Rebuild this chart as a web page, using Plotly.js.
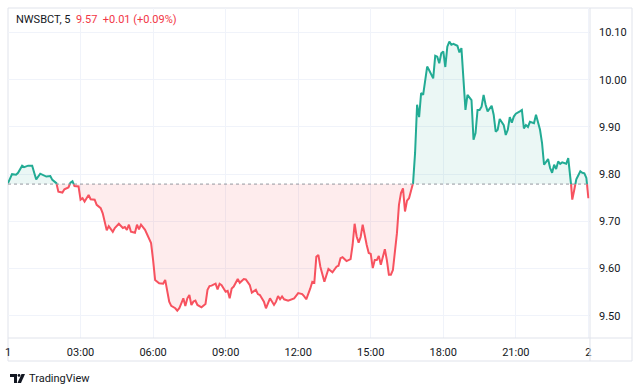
<!DOCTYPE html>
<html>
<head>
<meta charset="utf-8">
<script src="https://cdn.plot.ly/plotly-3.0.1.min.js"></script>
<style>
html,body{margin:0;padding:0;background:#fff;}
#chart{width:640px;height:391px;}
</style>
</head>
<body>
<div id="chart"></div>
<script>
// ---- data ----
const symbolLabel = "NWSBCT, 5";
const quoteLabel = "9.57\u00a0\u00a0+0.01 (+0.09%)";
const baseline = 9.779;
const minutes = [0,10,20,25,35,40,50,60,65,70,80,90,95,105,110,120,125,135,140,150,155,160,165,175,180,185,190,200,205,215,220,230,235,245,250,260,265,275,285,290,295,300,305,315,320,325,330,340,350,355,360,365,375,385,390,395,400,405,415,420,425,435,440,445,450,455,460,465,470,480,490,495,500,505,515,520,525,530,540,545,550,555,560,570,575,585,590,600,605,615,620,625,635,640,645,650,660,665,670,675,680,685,695,705,710,720,730,735,740,750,755,760,765,770,775,785,790,795,805,815,820,825,830,840,850,855,860,865,870,875,880,885,890,895,900,905,910,915,920,925,935,940,945,950,955,965,970,975,980,985,990,995,1005,1010,1015,1020,1025,1030,1040,1045,1055,1060,1065,1070,1075,1080,1085,1090,1095,1100,1105,1115,1120,1125,1135,1140,1150,1155,1160,1165,1170,1175,1180,1185,1190,1200,1205,1210,1215,1220,1230,1235,1240,1245,1250,1255,1260,1270,1275,1280,1285,1290,1295,1305,1310,1320,1325,1330,1340,1345,1350,1355,1360,1365,1370,1375,1385,1390,1395,1400,1405,1410,1420,1425,1430,1435,1440];
const prices = [9.781,9.800,9.799,9.803,9.818,9.815,9.818,9.818,9.803,9.789,9.801,9.796,9.795,9.796,9.788,9.781,9.763,9.761,9.768,9.772,9.782,9.785,9.775,9.774,9.746,9.749,9.742,9.756,9.747,9.746,9.735,9.728,9.717,9.681,9.690,9.678,9.686,9.695,9.686,9.688,9.682,9.693,9.678,9.676,9.693,9.683,9.693,9.682,9.661,9.654,9.618,9.576,9.569,9.568,9.576,9.548,9.530,9.521,9.516,9.511,9.516,9.537,9.521,9.537,9.544,9.523,9.530,9.532,9.523,9.518,9.525,9.555,9.563,9.564,9.568,9.556,9.568,9.565,9.551,9.553,9.537,9.558,9.562,9.578,9.570,9.578,9.577,9.565,9.549,9.555,9.546,9.544,9.530,9.516,9.527,9.537,9.523,9.530,9.542,9.535,9.541,9.535,9.532,9.535,9.537,9.548,9.546,9.541,9.535,9.558,9.572,9.570,9.625,9.629,9.604,9.572,9.587,9.599,9.592,9.604,9.606,9.622,9.624,9.616,9.620,9.650,9.695,9.668,9.655,9.667,9.693,9.668,9.650,9.633,9.631,9.601,9.618,9.618,9.627,9.608,9.641,9.618,9.587,9.587,9.597,9.675,9.735,9.760,9.770,9.721,9.744,9.749,9.781,9.845,9.947,9.921,9.972,9.968,10.028,10.020,10.003,10.051,10.049,10.035,10.056,10.060,10.027,10.070,10.081,10.074,10.076,10.072,10.058,10.067,9.936,9.968,9.957,9.873,9.887,9.936,9.936,9.943,9.968,9.947,9.933,9.945,9.926,9.890,9.894,9.917,9.904,9.883,9.894,9.921,9.909,9.922,9.928,9.933,9.936,9.897,9.904,9.900,9.911,9.908,9.926,9.894,9.866,9.820,9.832,9.813,9.803,9.820,9.811,9.827,9.822,9.825,9.822,9.834,9.799,9.746,9.767,9.789,9.806,9.803,9.802,9.792,9.749];
const xTickVals = [0,180,360,540,720,900,1080,1260,1440];
const xTickText = ["1","03:00","06:00","09:00","12:00","15:00","18:00","21:00","2"];
const yTickVals = [9.5,9.6,9.7,9.8,9.9,10.0,10.1];
const yTickText = ["9.50","9.60","9.70","9.80","9.90","10.00","10.10"];

// ---- colours ----
const UP = "#22ab94", DOWN = "#f7525f";

// ---- split series at baseline crossings ----
const ex = [], ey = [];
for (let i = 0; i < minutes.length; i++) {
  ex.push(minutes[i]); ey.push(prices[i]);
  if (i < minutes.length - 1) {
    const a = prices[i] - baseline, b = prices[i+1] - baseline;
    if (a * b < 0) {
      const t = a / (a - b);
      ex.push(minutes[i] + t * (minutes[i+1] - minutes[i]));
      ey.push(baseline);
    }
  }
}
const baseArr = ex.map(() => baseline);
const upFill = ey.map(v => Math.max(v, baseline));
const dnFill = ey.map(v => Math.min(v, baseline));
const upLine = ey.map(v => v >= baseline ? v : null);
const dnLine = ey.map(v => v <= baseline ? v : null);

const traces = [
  {x: ex, y: baseArr, mode: "lines", line: {width: 0}, hoverinfo: "skip", showlegend: false},
  {x: ex, y: upFill, mode: "lines", line: {width: 0}, fill: "tonexty", fillcolor: "rgba(34,171,148,0.09)", hoverinfo: "skip", showlegend: false},
  {x: ex, y: baseArr, mode: "lines", line: {width: 0}, hoverinfo: "skip", showlegend: false},
  {x: ex, y: dnFill, mode: "lines", line: {width: 0}, fill: "tonexty", fillcolor: "rgba(247,82,95,0.11)", hoverinfo: "skip", showlegend: false},
  {x: ex, y: dnLine, mode: "lines", line: {color: DOWN, width: 2}, connectgaps: false, showlegend: false},
  {x: ex, y: upLine, mode: "lines", line: {color: UP, width: 2}, connectgaps: false, showlegend: false}
];

// pixel -> paper helpers (plot area 8..590 x, 8..338 y)
const L = 8, R = 590, T = 8, B = 338;
const px = p => (p - L) / (R - L);
const py = p => (B - p) / (B - T);
const border = "#e0e3eb";

const shapes = [
  {type: "rect", xref: "paper", yref: "paper", x0: px(8), x1: px(632), y0: py(8), y1: py(361), line: {color: border, width: 1}, layer: "below"},
  {type: "line", xref: "paper", yref: "paper", x0: px(8), x1: px(632), y0: py(338), y1: py(338), line: {color: border, width: 1}},
  {type: "line", xref: "paper", yref: "paper", x0: px(590), x1: px(590), y0: py(8), y1: py(361), line: {color: border, width: 1}},
  {type: "line", xref: "paper", yref: "y", x0: 0, x1: 1, y0: baseline, y1: baseline, line: {color: "#9598a1", width: 1, dash: "dot"}},
  // TradingView logo
  {type: "path", xref: "paper", yref: "paper", fillcolor: "#131722", line: {width: 0},
   path: `M ${px(10)} ${py(374)} L ${px(17)} ${py(374)} L ${px(17)} ${py(383)} L ${px(14)} ${py(383)} L ${px(14)} ${py(377)} L ${px(10)} ${py(377)} Z`},
  {type: "circle", xref: "paper", yref: "paper", fillcolor: "#131722", line: {width: 0},
   x0: px(17.6), x1: px(20.4), y0: py(374), y1: py(376.8)},
  {type: "path", xref: "paper", yref: "paper", fillcolor: "#131722", line: {width: 0},
   path: `M ${px(21.5)} ${py(374)} L ${px(25)} ${py(374)} L ${px(21)} ${py(383)} L ${px(17.5)} ${py(383)} Z`}
];

const font = "Roboto, 'Liberation Sans', sans-serif";
const layout = {
  width: 640, height: 391,
  margin: {l: 8, r: 50, t: 8, b: 53, pad: 0},
  paper_bgcolor: "#ffffff", plot_bgcolor: "#ffffff",
  showlegend: false,
  font: {family: font, size: 11, color: "#131722"},
  xaxis: {
    range: [0, 1444], tickvals: xTickVals, ticktext: xTickText,
    showgrid: true, gridcolor: "#f0f3fa", gridwidth: 1, zeroline: false, showline: false,
    ticks: "", ticklabelstandoff: 6, tickfont: {family: font, size: 11, color: "#131722"}, fixedrange: true
  },
  yaxis: {
    side: "right", range: [9.453, 10.152], tickvals: yTickVals, ticktext: yTickText,
    showgrid: true, gridcolor: "#f0f3fa", gridwidth: 1, zeroline: false, showline: false,
    ticks: "", ticklabelstandoff: 8, tickfont: {family: font, size: 11, color: "#131722"}, fixedrange: true
  },
  shapes: shapes,
  annotations: [
    {xref: "paper", yref: "paper", x: px(14), y: py(19), xanchor: "left", yanchor: "middle", showarrow: false,
     text: symbolLabel + "\u00a0\u00a0<span style=\"color:#f23645\">" + quoteLabel + "</span>",
     font: {family: font, size: 11, color: "#131722"}},
    {xref: "paper", yref: "paper", x: px(27), y: py(378.5), xanchor: "left", yanchor: "middle", showarrow: false,
     text: "TradingView", font: {family: font, size: 11, color: "#131722"}}
  ]
};

Plotly.newPlot("chart", traces, layout, {displayModeBar: false, staticPlot: true});
</script>
</body>
</html>
